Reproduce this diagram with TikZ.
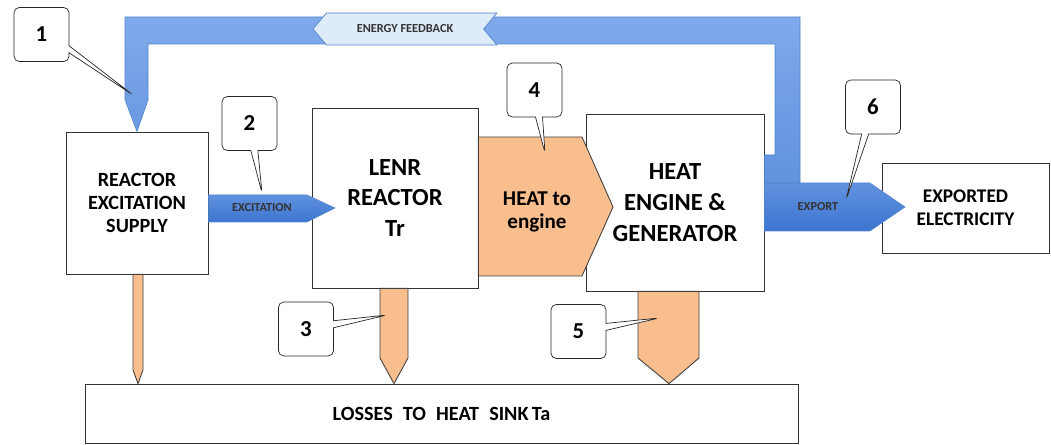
\documentclass[tikz,border=0pt]{standalone}
\usepackage{fontspec}
\setmainfont{Carlito}
\usetikzlibrary{shapes.callouts, shapes.symbols, shadows}

\definecolor{heatorange}{RGB}{248,190,142}
\definecolor{flowlight}{RGB}{128,170,234}
\definecolor{flowmid}{RGB}{96,146,222}
\definecolor{flowdark}{RGB}{60,116,208}
\definecolor{flowline}{RGB}{82,132,206}
\definecolor{labelblue}{RGB}{222,235,248}

\begin{document}
\begin{tikzpicture}[
                x=0.02cm, y=-0.02cm,
                box/.style={draw=black!80, fill=white, align=center, inner sep=2pt, drop shadow={shadow xshift=0.5pt, shadow yshift=-0.7pt, opacity=0.45}},
                big/.style={font=\fontsize{14}{17.5}\selectfont\bfseries},
                mid/.style={font=\fontsize{11.5}{13}\selectfont\bfseries},
                numcall/.style={rectangle callout, draw=black!85, fill=white, rounded corners=3pt, minimum width=1.1cm, minimum height=1.08cm, callout pointer width=0.14cm, font=\fontsize{13}{15}\selectfont\bfseries},
                heat/.style={draw=black!75, line width=0.5pt, fill=heatorange},
                flow/.style={top color=flowlight, bottom color=flowmid, draw=flowline, line width=0.3pt},
                flowdown/.style={top color=flowmid, bottom color=flowdark, draw=flowline, line width=0.3pt},
                tag/.style={font=\fontsize{7}{8}\selectfont\bfseries, text=black!80}
            ]
            \useasboundingbox (0,0) rectangle (1051,445);

            % main blocks
            \node[box, mid, minimum width=2.84cm, minimum height=2.84cm] (supply) at (137,203) {REACTOR\\EXCITATION\\SUPPLY};
            \node[box, big, minimum width=3.32cm, minimum height=3.6cm] (reactor) at (395,198) {LENR\\REACTOR\\Tr};
            \node[box, big, minimum width=3.56cm, minimum height=3.54cm] (engine) at (675,202.5) {HEAT\\ENGINE \&\\GENERATOR};
            \node[box, font=\fontsize{11}{13}\selectfont\bfseries, minimum width=3.34cm, minimum height=1.8cm] (exported) at (965.5,208) {EXPORTED\\ELECTRICITY};
            \node[box, font=\fontsize{11.5}{13}\selectfont\bfseries, minimum width=14.26cm, minimum height=1.18cm] (losses) at (441.5,413.5) {LOSSES\enspace TO\enspace HEAT\enspace SINK\,Ta};

            % heat losses into the sink
            \path[heat] (supply.south -| 133,0) -- (133,370) -- (losses.north -| 138,0) -- (143,370) -- (supply.south -| 143,0) -- cycle;
            \path[heat] (reactor.south -| 380,0) -- (380,358) -- (losses.north -| 394,0) -- (408,358) -- (reactor.south -| 408,0) -- cycle;
            \path[heat] (engine.south -| 638,0) -- (638,358) -- (losses.north -| 669,0) -- (699,358) -- (engine.south -| 699,0) -- cycle;

            % heat to the engine
            \path[heat] (reactor.east |- 0,137) -- (582,137) -- (613,207) -- (582,276) -- (reactor.east |- 0,276) -- cycle;
            \node[font=\fontsize{12}{13.5}\selectfont\bfseries, align=center] (heattext) at (537,212) {HEAT to\\engine};

            % electrical flows
            \path[flowdown] (supply.east |- 0,195) -- (307,195) -- (335,208) -- (307,222) -- (supply.east |- 0,222) -- cycle;
            \node[tag] (exclabel) at (262,208) {EXCITATION};
            \path[flowdown] (engine.east |- 0,183) -- (870,183) -- (905,207) -- (870,231) -- (engine.east |- 0,231) -- cycle;
            \node[tag] (explabel) at (818,207) {EXPORT};
            \path[flow] (engine.east |- 0,183) -- (engine.east |- 0,155) -- (775,155) -- (775,44) -- (148,44) -- (148,100)
                -- (supply.north) -- (125,100) -- (125,17) -- (800,17) -- (800,183) -- cycle;
            \node[signal, signal to=west, signal from=east, signal pointer angle=100, draw=flowline, fill=labelblue, tag,
                minimum width=3.68cm, minimum height=0.64cm, inner sep=1pt] (fblabel) at (405,29) {ENERGY FEEDBACK};

            % numbered callouts
            \node[numcall, callout absolute pointer={(133,95)}] (c1) at (41.5,34.5) {1};
            \node[numcall, callout absolute pointer={(262,193)}] (c2) at (249.5,123.5) {2};
            \node[numcall, callout absolute pointer={(387,315)}] (c3) at (306,329) {3};
            \node[numcall, callout absolute pointer={(545,153)}] (c4) at (534.5,90) {4};
            \node[numcall, callout absolute pointer={(659,318)}] (c5) at (578.5,331.5) {5};
            \node[numcall, callout absolute pointer={(846,200)}] (c6) at (873,107) {6};
        \end{tikzpicture}
\end{document}
